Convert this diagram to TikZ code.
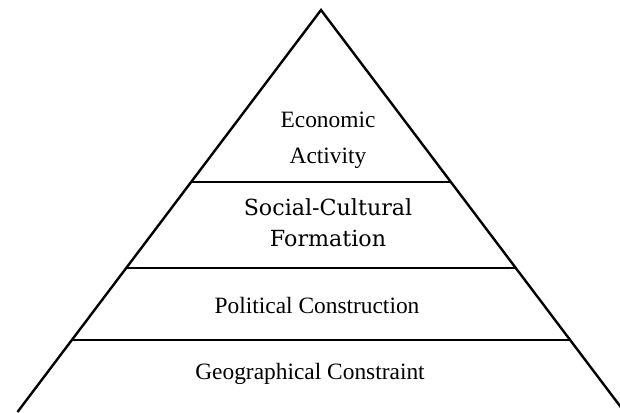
\documentclass[tikz,border=0pt]{standalone}
\usepackage{fontspec}
\setmainfont{Liberation Serif}
\newfontfamily\verafont{DejaVu Serif}
\usetikzlibrary{calc}
\begin{document}
\begin{tikzpicture}[x=1pt,y=-1pt,
  edge/.style={line width=2.4pt, line join=miter},
  divider/.style={line width=1.8pt},
  lbl/.style={font=\fontsize{23.4}{34}\selectfont, align=center, inner sep=0pt},
  lbltwo/.style={font=\fontsize{23.4}{36.5}\selectfont, align=center, inner sep=0pt},
  lblsc/.style={font=\verafont\fontsize{22.2}{31}\selectfont, align=center, inner sep=0pt}]
\useasboundingbox (0,0) rectangle (620,412);
\clip (0,0) rectangle (620,412);
\coordinate (apex) at (321,10);
\coordinate (bl) at (17.5,412);
\coordinate (br) at (624.5,412);
\draw[edge] (bl) -- (apex) -- (br);
\coordinate (l1) at ($(apex)!172/402!(bl)$);
\coordinate (r1) at ($(apex)!172/402!(br)$);
\coordinate (l2) at ($(apex)!258/402!(bl)$);
\coordinate (r2) at ($(apex)!258/402!(br)$);
\coordinate (l3) at ($(apex)!330/402!(bl)$);
\coordinate (r3) at ($(apex)!330/402!(br)$);
\draw[divider] (l1) -- (r1);
\draw[divider] (l2) -- (r2);
\draw[divider] (l3) -- (r3);
\node[lbltwo] (econ) at (328,140.5) {Economic\\Activity};
\node[lblsc] (soc) at (328,223) {Social-Cultural\\Formation};
\node[lbl] (pol) at (317,305) {Political Construction};
\node[lbl] (geo) at (310,374) {Geographical Constraint};
\end{tikzpicture}
\end{document}
